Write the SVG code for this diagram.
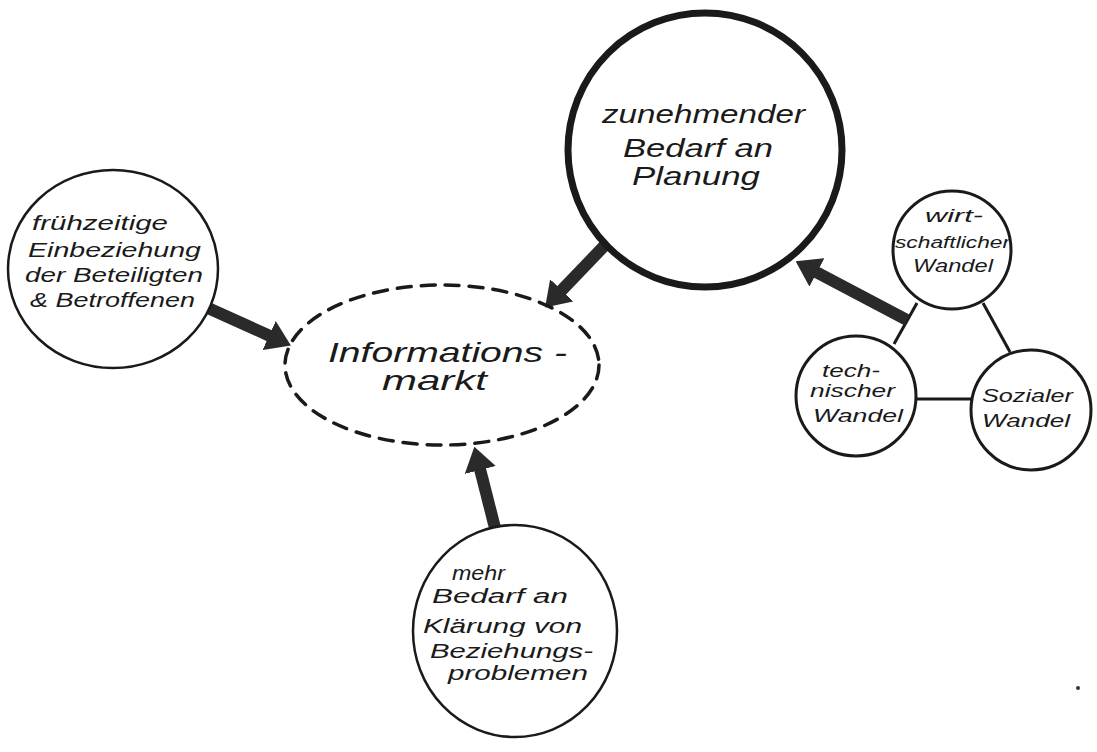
<svg xmlns="http://www.w3.org/2000/svg" width="1097" height="752" viewBox="0 0 1097 752">
<style>
.n{fill:#fff;stroke:#1a1a1a}
.t{font-family:"Liberation Sans",Arial,sans-serif;font-style:italic;fill:#1a1a1a;lengthAdjust:spacingAndGlyphs}
.a{stroke:#2a2a2a;stroke-width:12;fill:none;marker-end:url(#ah)}
.l{stroke:#1a1a1a;stroke-width:3;fill:none}
</style>
<defs>
<marker id="ah" markerUnits="userSpaceOnUse" markerWidth="24" markerHeight="32" viewBox="0 0 24 32" refX="1" refY="16" orient="auto">
<path d="M0,0 L24,16 L0,32 z" fill="#2a2a2a"/>
</marker>
</defs>
<rect width="1097" height="752" fill="#fff"/>
<g id="connectors">
<line class="l" x1="917" y1="303" x2="894" y2="344"/>
<line class="l" x1="983" y1="303" x2="1010" y2="352"/>
<line class="l" x1="915" y1="399" x2="972" y2="399"/>
<line class="a" x1="608" y1="242" x2="561" y2="291"/>
<line class="a" x1="907" y1="320" x2="816" y2="272"/>
<line class="a" x1="208" y1="308" x2="270" y2="336"/>
<line class="a" x1="495" y1="528" x2="480" y2="469"/>
</g>
<g id="informationsmarkt">
<ellipse cx="442" cy="365" rx="157" ry="80" fill="none" stroke="#1a1a1a" stroke-width="3.5" stroke-dasharray="14 10" stroke-linecap="round"/>
<text class="t" font-size="28" x="328" y="362" textLength="239" lengthAdjust="spacingAndGlyphs">Informations -</text>
<text class="t" font-size="28" x="382" y="390" textLength="105" lengthAdjust="spacingAndGlyphs">markt</text>
</g>
<g id="fruehzeitige">
<ellipse class="n" cx="113" cy="269" rx="105" ry="99" stroke-width="2.5"/>
<text class="t" font-size="20" x="32" y="230" textLength="136" lengthAdjust="spacingAndGlyphs">frühzeitige</text>
<text class="t" font-size="20" x="28" y="257" textLength="173" lengthAdjust="spacingAndGlyphs">Einbeziehung</text>
<text class="t" font-size="20" x="25" y="282" textLength="178" lengthAdjust="spacingAndGlyphs">der Beteiligten</text>
<text class="t" font-size="20" x="30" y="307" textLength="165" lengthAdjust="spacingAndGlyphs">&amp; Betroffenen</text>
</g>
<g id="planung">
<circle class="n" cx="705" cy="150" r="137" stroke-width="7"/>
<text class="t" font-size="26" x="602" y="123" textLength="203" lengthAdjust="spacingAndGlyphs">zunehmender</text>
<text class="t" font-size="26" x="623" y="157" textLength="150" lengthAdjust="spacingAndGlyphs">Bedarf an</text>
<text class="t" font-size="26" x="632" y="185" textLength="128" lengthAdjust="spacingAndGlyphs">Planung</text>
</g>
<g id="wirtschaftlich">
<circle class="n" cx="952" cy="250" r="59" stroke-width="3"/>
<text class="t" font-size="18" x="925" y="222" textLength="58" lengthAdjust="spacingAndGlyphs">wirt-</text>
<text class="t" font-size="16" x="895" y="248" textLength="115" lengthAdjust="spacingAndGlyphs">schaftlicher</text>
<text class="t" font-size="19" x="913" y="272" textLength="80" lengthAdjust="spacingAndGlyphs">Wandel</text>
</g>
<g id="technisch">
<circle class="n" cx="856" cy="396" r="60" stroke-width="3"/>
<text class="t" font-size="19" x="822" y="377" textLength="58" lengthAdjust="spacingAndGlyphs">tech-</text>
<text class="t" font-size="19" x="810" y="397" textLength="85" lengthAdjust="spacingAndGlyphs">nischer</text>
<text class="t" font-size="19" x="813" y="422" textLength="90" lengthAdjust="spacingAndGlyphs">Wandel</text>
</g>
<g id="sozial">
<circle class="n" cx="1031" cy="410" r="60" stroke-width="3"/>
<text class="t" font-size="19" x="982" y="402" textLength="91" lengthAdjust="spacingAndGlyphs">Sozialer</text>
<text class="t" font-size="19" x="982" y="427" textLength="88" lengthAdjust="spacingAndGlyphs">Wandel</text>
</g>
<g id="beziehungsprobleme">
<ellipse class="n" cx="515" cy="631" rx="102" ry="106" stroke-width="2.5"/>
<text class="t" font-size="20" x="452" y="580" textLength="53" lengthAdjust="spacingAndGlyphs">mehr</text>
<text class="t" font-size="20" x="432" y="603" textLength="136" lengthAdjust="spacingAndGlyphs">Bedarf an</text>
<text class="t" font-size="20" x="423" y="633" textLength="159" lengthAdjust="spacingAndGlyphs">Klärung von</text>
<text class="t" font-size="20" x="430" y="658" textLength="163" lengthAdjust="spacingAndGlyphs">Beziehungs-</text>
<text class="t" font-size="20" x="448" y="680" textLength="140" lengthAdjust="spacingAndGlyphs">problemen</text>
</g>
<circle cx="1078" cy="688" r="2" fill="#333"/>
</svg>
